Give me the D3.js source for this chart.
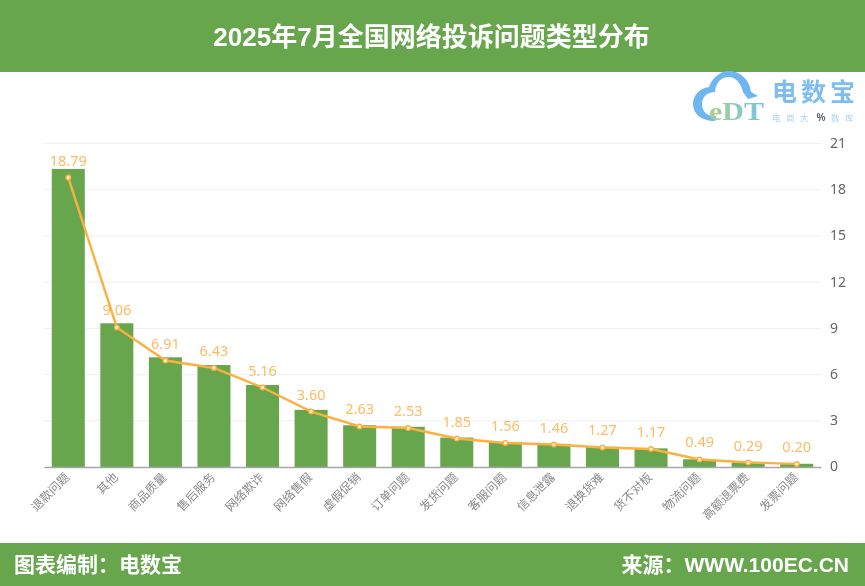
<!DOCTYPE html>
<html><head><meta charset="utf-8">
<script src="https://cdn.jsdelivr.net/npm/d3@7/dist/d3.min.js"></script>
<style>html,body{margin:0;padding:0;background:#fff}svg{display:block}text{font-family:"Noto Sans","Noto Sans CJK SC",sans-serif}.ar{font-family:"Liberation Sans","Noto Sans CJK SC",sans-serif}.serif{font-family:"Liberation Serif",serif}</style>
</head><body><svg id="c" width="865" height="586"><defs><filter id="soft" x="0" y="0" width="100%" height="100%"><feGaussianBlur stdDeviation="0.4"/></filter>
<linearGradient id="edt" x1="0" x2="1" y1="0" y2="0"><stop offset="0" stop-color="#a9d08e"/><stop offset="0.5" stop-color="#8ecbb5"/><stop offset="1" stop-color="#7cc0ea"/></linearGradient></defs></svg>
<script>
const categories=["退款问题","其他","商品质量","售后服务","网络欺诈","网络售假","虚假促销","订单问题","发货问题","客服问题","信息泄露","退换货难","货不对板","物流问题","高额退票费","发票问题"];
const lineValues=[18.79,9.06,6.91,6.43,5.16,3.60,2.63,2.53,1.85,1.56,1.46,1.27,1.17,0.49,0.29,0.20];
const barValues=[19.35,9.33,7.12,6.62,5.32,3.71,2.71,2.61,1.91,1.61,1.50,1.31,1.21,0.50,0.30,0.21];
const yTicks=[0,3,6,9,12,15,18,21];
const title="2025年7月全国网络投诉问题类型分布";
const footerLeft="图表编制:电数宝".replace(":","\uFF1A");
const footerRight="来源:WWW.100EC.CN".replace(":","\uFF1A");
const green="#68a64e",orange="#fbb03f";
const root=d3.select("#c").append("g").attr("filter","url(#soft)");
root.append("rect").attr("width",865).attr("height",586).attr("fill","#fff");
const svg=root;
const x=d3.scaleBand().domain(categories).range([44,821]).paddingInner(0.32).paddingOuter(0.16);
const y=d3.scaleLinear().domain([0,21]).range([467,143.5]);
svg.append("rect").attr("width",865).attr("height",72).attr("fill",green);
svg.append("rect").attr("y",543).attr("width",865).attr("height",43).attr("fill",green);
svg.append("text").attr("class","ar").attr("x",431.5).attr("y",46).attr("text-anchor","middle").attr("font-size",26).attr("font-weight",700).attr("fill","#fff").text(title);
svg.append("text").attr("class","ar").attr("x",14).attr("y",572).attr("font-size",21).attr("font-weight",700).attr("fill","#fff").text(footerLeft);
svg.append("text").attr("class","ar").attr("x",849).attr("y",572).attr("text-anchor","end").attr("font-size",21).attr("font-weight",700).attr("fill","#fff").text(footerRight);

// logo
const logo=svg.append("g");
logo.append("path").attr("d","M715 121 C700 121 693 113 693 104 C693 95 700 88 709 87 C712 78 720 71 729 71 C741 71 750 81 751 92 L758 96 L748 99 L743 92 C741 82 734 76 727 77 C719 78 715 86 715 92 C707 92 702 97 702 104 C702 112 708 117 716 116 Z").attr("fill","#6db6f0");
logo.append("text").attr("class","serif").attr("x",709).attr("y",120).attr("font-size",26).attr("font-weight",700).attr("textLength",55).attr("lengthAdjust","spacingAndGlyphs").attr("fill","url(#edt)").text("eDT");
logo.append("text").attr("x",772).attr("y",101).attr("font-size",25).attr("font-weight",700).attr("letter-spacing",4).attr("fill","#7dbdf2").text("电数宝");
logo.append("text").attr("x",772).attr("y",121).attr("font-size",8.5).attr("letter-spacing",5.5).attr("fill","#a9d2f2").text("电商大");
logo.append("text").attr("x",821).attr("y",121).attr("text-anchor","middle").attr("font-size",10).attr("font-weight",700).attr("fill","#5f6b75").text("%");
logo.append("text").attr("x",831).attr("y",121).attr("font-size",8.5).attr("letter-spacing",5.5).attr("fill","#a9d2f2").text("数库");

// grid & axes
svg.append("g").selectAll("line").data(yTicks.filter(d=>d>0)).join("line")
 .attr("x1",44).attr("x2",821).attr("y1",d=>y(d)).attr("y2",d=>y(d)).attr("stroke","#eeeeee");
const yAxis=d3.axisRight(y).tickValues(yTicks).tickSize(0).tickPadding(0);
const ya=svg.append("g").attr("transform","translate(830,-0.5)").call(yAxis);
ya.select(".domain").remove();
ya.selectAll("text").attr("font-size",14).attr("fill","#666").attr("x",0);
svg.selectAll(".bar").data(categories).join("rect").attr("class","bar")
 .attr("x",d=>x(d)).attr("width",x.bandwidth())
 .attr("y",(d,i)=>y(barValues[i])).attr("height",(d,i)=>y(0)-y(barValues[i])).attr("fill",green);
const xAxis=d3.axisBottom(x).tickSize(0).tickPadding(0);
const xa=svg.append("g").attr("transform","translate(0,467)").call(xAxis);
xa.select(".domain").attr("stroke","#a6a6ad").attr("stroke-width",1.5);
xa.selectAll(".tick text").attr("font-size",12).attr("fill","#8a8a8a").attr("text-anchor","end")
 .attr("transform","translate(-4,5) rotate(-45)").attr("dy",".7em").attr("y",0);
// line
const cx=d=>x(d)+x.bandwidth()/2;
svg.append("path").datum(categories).attr("fill","none").attr("stroke",orange).attr("stroke-width",2.4)
 .attr("d",d3.line().x(cx).y((d,i)=>y(lineValues[i])));
svg.selectAll(".pt").data(categories).join("circle").attr("class","pt")
 .attr("cx",cx).attr("cy",(d,i)=>y(lineValues[i])).attr("r",2.3).attr("fill","#fff3d8").attr("stroke",orange).attr("stroke-width",1.4);
svg.selectAll(".lab").data(categories).join("text").attr("class","lab")
 .attr("x",cx).attr("y",(d,i)=>y(lineValues[i])-12).attr("text-anchor","middle").attr("font-size",14.5).attr("fill","#fdbb63").text((d,i)=>lineValues[i].toFixed(2));
</script></body></html>
